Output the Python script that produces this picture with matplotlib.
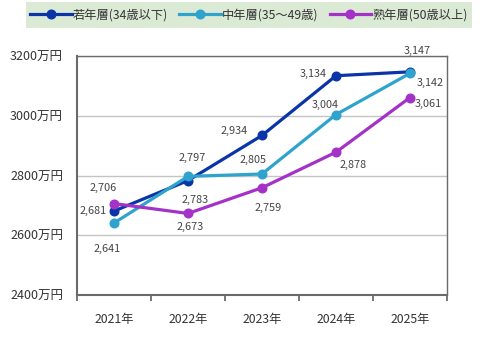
import numpy as np
import matplotlib.pyplot as plt
import matplotlib.patches as pth

plt.rcParams['font.family'] = ['Noto Sans CJK JP', 'DejaVu Sans']

years = ['2021年', '2022年', '2023年', '2024年', '2025年']
young = [2681, 2783, 2934, 3134, 3147]
middle = [2641, 2797, 2805, 3004, 3142]
senior = [2706, 2673, 2759, 2878, 3061]
names = ['若年層(34歳以下)', '中年層(35～49歳)', '熟年層(50歳以上)']
yticks = [2400, 2600, 2800, 3000, 3200]

colors = ['#0a34a8', '#2ea3cc', '#a432c8']
# label offsets (pixels, +y up) for each point of each series
offsets = [
    [(-21, 0), (7, -19), (-28, 4), (-23, 2), (7, 21)],
    [(-7, -26), (4, 18), (-9, 14), (-11, 10), (20, -10)],
    [(-11, 16), (2, -14), (6, -20), (17, -13), (18, -6)],
]

figure = plt.figure(figsize=(4.87, 3.37), dpi=100)
figure.patches.append(pth.Rectangle((26/487, 1-28/337), 446/487, 26/337,
                                    transform=figure.transFigure,
                                    facecolor='#dbead5', edgecolor='none'))
axes = figure.add_axes([77/487, 42/337, 370/487, 239/337])

x = np.arange(len(years))
handles = []
for series, name, color, offs in zip([young, middle, senior], names,
                                     colors, offsets):
    line, = axes.plot(x, series, color=color, lw=2.3, marker='o',
                      markersize=6.2, label=name, zorder=3)
    handles.append(line)
    for xi, value, (dx, dy) in zip(x, series, offs):
        axes.annotate(f'{value:,}', (xi, value),
                      xytext=(dx*0.72, dy*0.72), textcoords='offset points',
                      ha='center', va='center', fontsize=7.8,
                      color='#444444', zorder=2)

axes.set_xlim(-0.5, len(years)-0.5)
axes.set_ylim(2400, 3200)
axes.set_yticks(yticks)
axes.set_yticklabels([f'{t}万円' for t in yticks], fontsize=9,
                     color='#333333')
axes.set_xticks(x)
axes.set_xticklabels(years, fontsize=8.8, color='#333333')
axes.set_xticks(np.arange(len(years)+1)-0.5, minor=True)
axes.tick_params(axis='x', which='major', length=0, pad=13)
axes.tick_params(axis='x', which='minor', length=4, direction='out',
                 color='#606060', width=1.2)
axes.tick_params(axis='y', length=0, pad=10)
axes.grid(axis='y', color='#c4c4c4', lw=1)
for side in ['left', 'bottom']:
    axes.spines[side].set_color('#6a6a6a')
    axes.spines[side].set_linewidth(1.5)
for side in ['top', 'right']:
    axes.spines[side].set_color('#6a6a6a')
    axes.spines[side].set_linewidth(1.0)

figure.legend(handles=handles, loc='center', ncol=3,
              bbox_to_anchor=(249/487, 1-15/337), frameon=False,
              fontsize=8.8, handlelength=3.4, handletextpad=0.1,
              columnspacing=0.9, labelcolor='#333333')

figure.savefig('out.png', dpi=100)
